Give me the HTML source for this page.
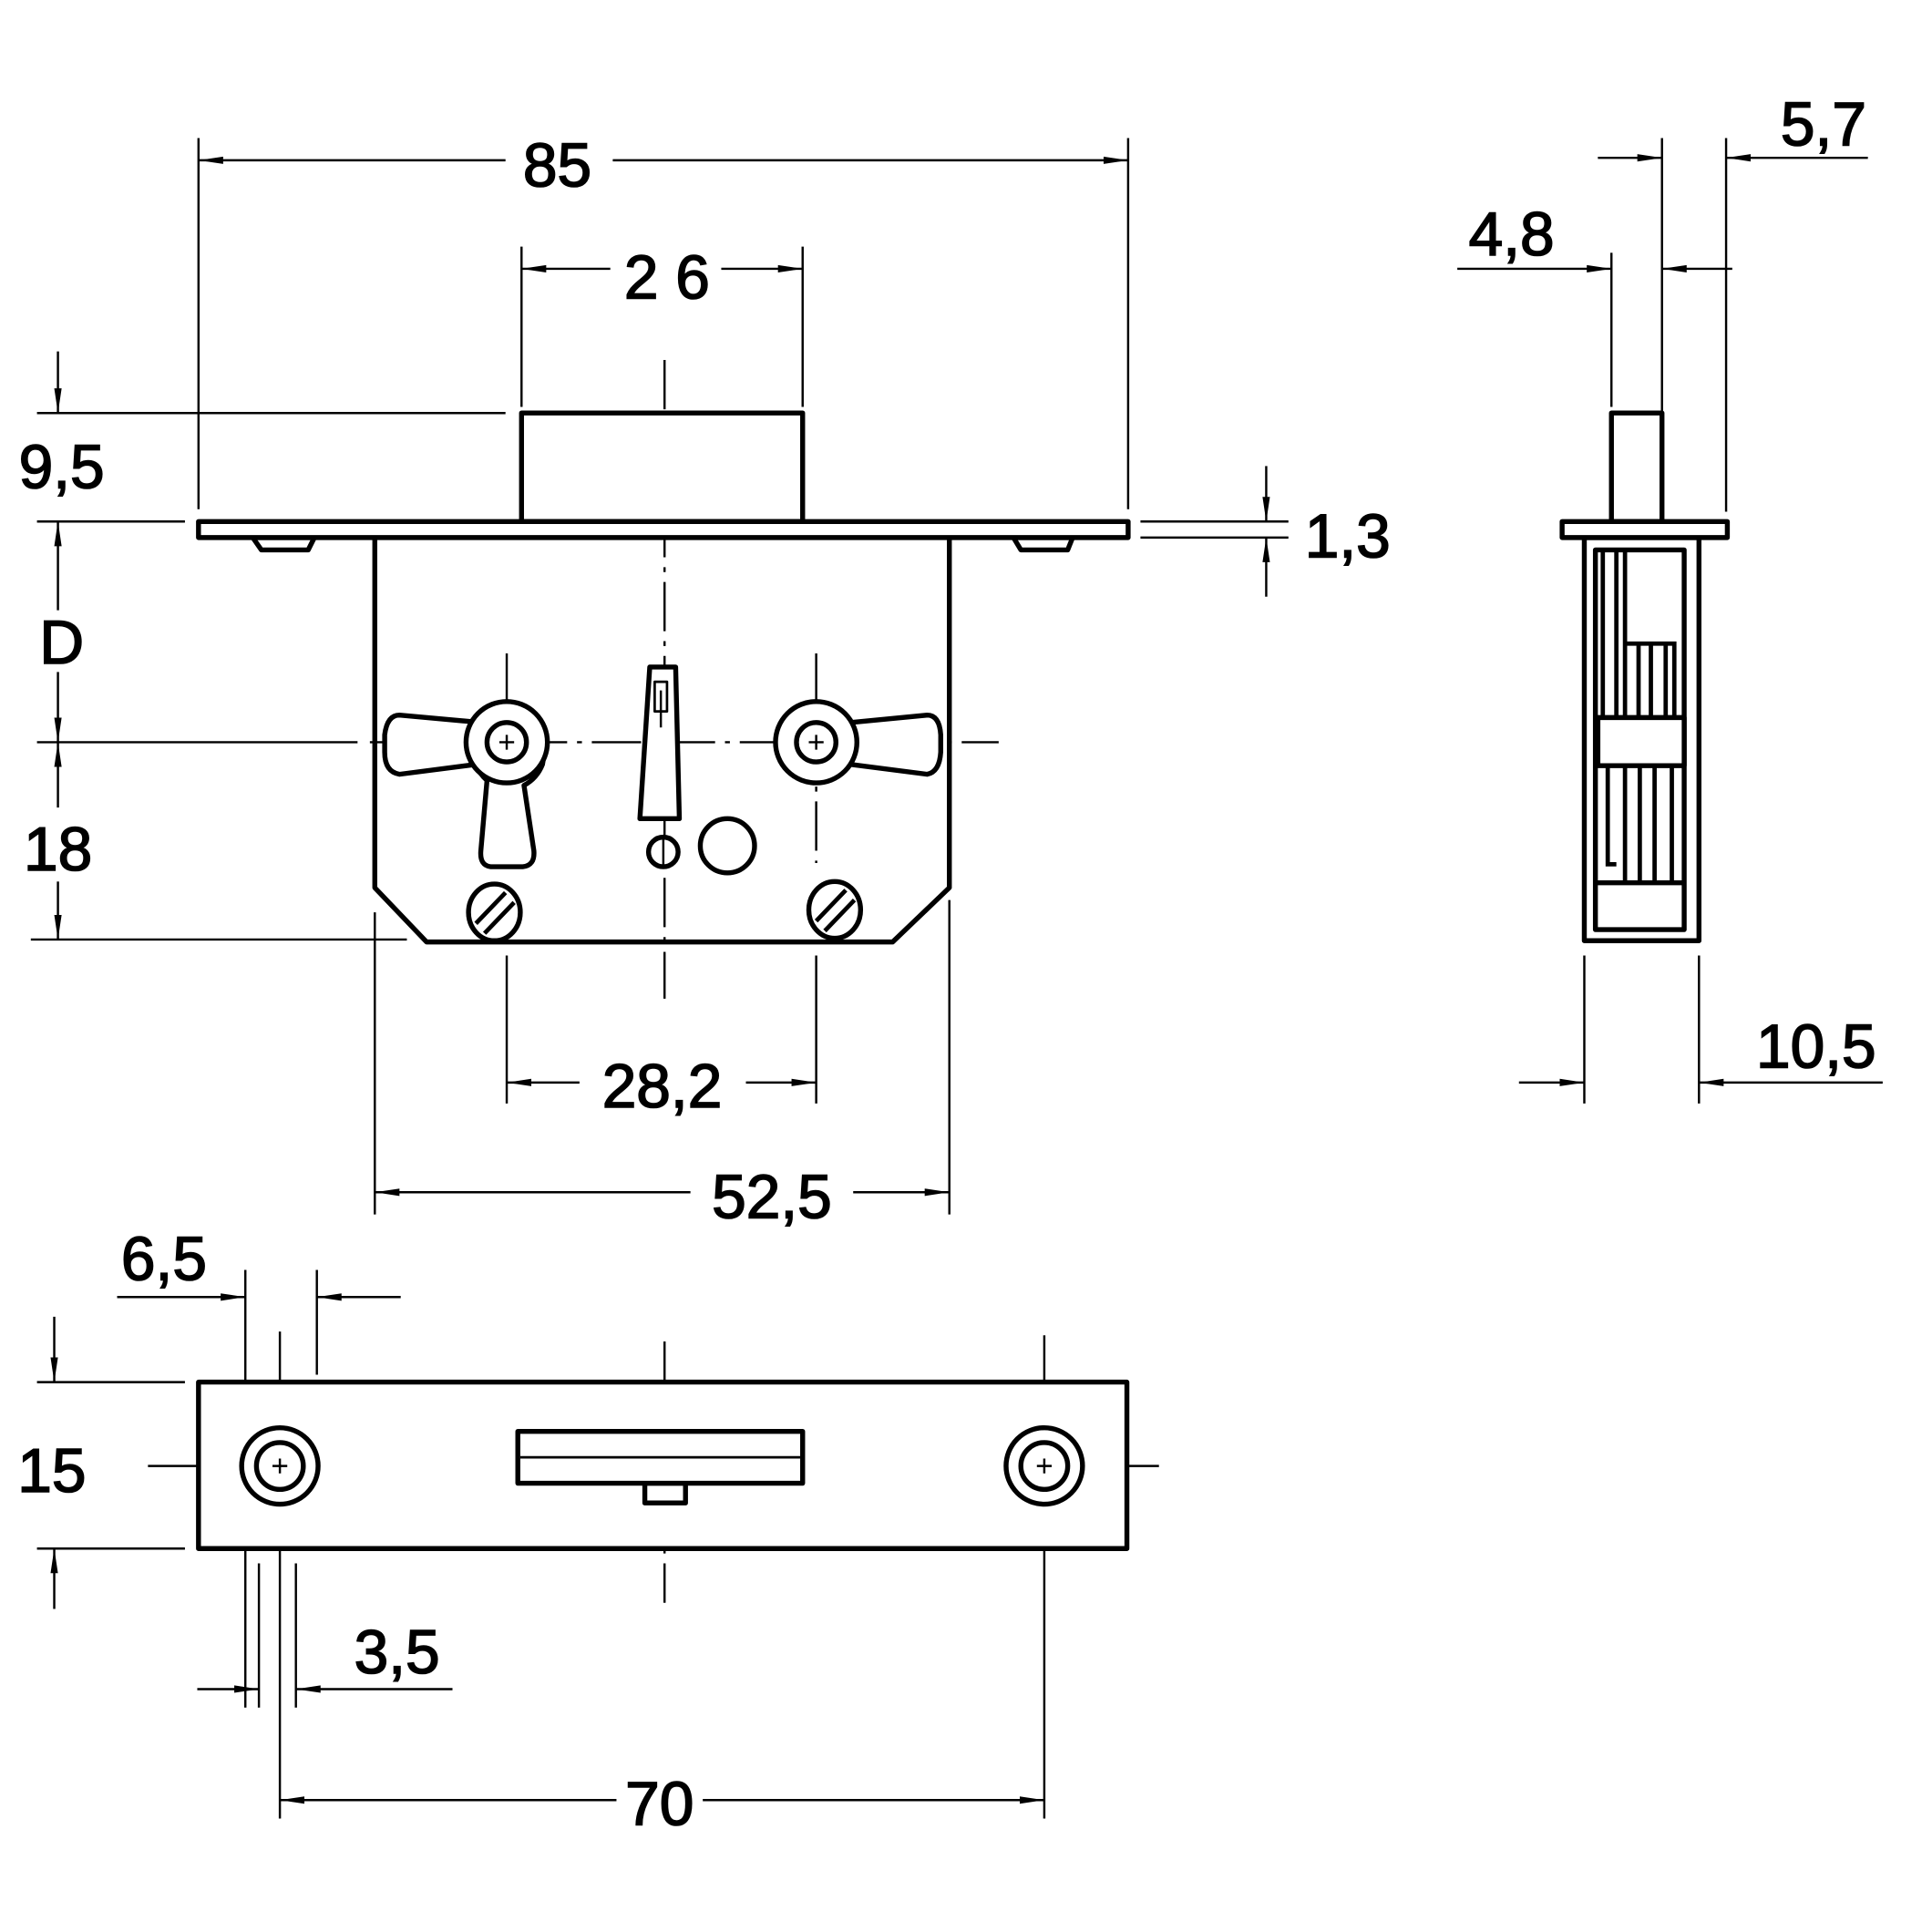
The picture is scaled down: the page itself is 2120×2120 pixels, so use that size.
<!DOCTYPE html>
<html><head><style>html,body{margin:0;padding:0;background:#fff}svg{display:block}</style></head><body>
<svg width="2120" height="2120" viewBox="0 0 1567 1567" xmlns="http://www.w3.org/2000/svg">
<defs>
<marker id="a" viewBox="0 0 20 8" refX="20" refY="4" markerWidth="20" markerHeight="8" markerUnits="userSpaceOnUse" orient="auto-start-reverse"><path d="M0,1 L20,4 L0,7 Z" fill="#000"/></marker>
</defs>
<g fill="none" stroke="#000" stroke-width="1.8">
<g stroke-dasharray="40,8,4,8">
<line x1="539" y1="292" x2="539" y2="810"/>
<line x1="300" y1="602" x2="810" y2="602"/>
<line x1="411" y1="530" x2="411" y2="700"/>
<line x1="662" y1="530" x2="662" y2="700"/>
<line x1="120" y1="1189" x2="948" y2="1189"/>
<line x1="539" y1="1088" x2="539" y2="1300"/>
</g>
<line x1="161" y1="112" x2="161" y2="413"/><line x1="915" y1="112" x2="915" y2="413"/>
<line x1="423" y1="200" x2="423" y2="330"/><line x1="651" y1="200" x2="651" y2="330"/>
<line x1="30" y1="335" x2="410" y2="335"/><line x1="30" y1="423" x2="150" y2="423"/>
<line x1="30" y1="602" x2="290" y2="602"/><line x1="25" y1="762" x2="330" y2="762"/>
<line x1="925" y1="423" x2="1045" y2="423"/><line x1="925" y1="436" x2="1045" y2="436"/>
<line x1="411" y1="775" x2="411" y2="895"/><line x1="662" y1="775" x2="662" y2="895"/>
<line x1="304" y1="740" x2="304" y2="985"/><line x1="770" y1="730" x2="770" y2="985"/>
<line x1="1348" y1="112" x2="1348" y2="335"/><line x1="1400" y1="112" x2="1400" y2="415"/>
<line x1="1307" y1="205" x2="1307" y2="330"/>
<line x1="1285" y1="775" x2="1285" y2="895"/><line x1="1378" y1="775" x2="1378" y2="895"/>
<line x1="199" y1="1030" x2="199" y2="1385"/><line x1="257" y1="1030" x2="257" y2="1115"/>
<line x1="210" y1="1268" x2="210" y2="1385"/><line x1="240" y1="1268" x2="240" y2="1385"/>
<line x1="227" y1="1080" x2="227" y2="1475"/><line x1="847" y1="1083" x2="847" y2="1475"/>
<line x1="30" y1="1121" x2="150" y2="1121"/><line x1="30" y1="1256" x2="150" y2="1256"/>
<line x1="161" y1="130" x2="410" y2="130" marker-start="url(#a)"/><line x1="497" y1="130" x2="915" y2="130" marker-end="url(#a)"/>
<line x1="423" y1="218" x2="495" y2="218" marker-start="url(#a)"/><line x1="585" y1="218" x2="651" y2="218" marker-end="url(#a)"/>
<line x1="47" y1="285" x2="47" y2="335" marker-end="url(#a)"/>
<line x1="47" y1="423" x2="47" y2="495" marker-start="url(#a)"/><line x1="47" y1="545" x2="47" y2="602" marker-end="url(#a)"/>
<line x1="47" y1="602" x2="47" y2="655" marker-start="url(#a)"/><line x1="47" y1="715" x2="47" y2="762" marker-end="url(#a)"/>
<line x1="1027" y1="378" x2="1027" y2="423" marker-end="url(#a)"/><line x1="1027" y1="484" x2="1027" y2="436" marker-end="url(#a)"/>
<line x1="411" y1="878" x2="470" y2="878" marker-start="url(#a)"/><line x1="605" y1="878" x2="662" y2="878" marker-end="url(#a)"/>
<line x1="304" y1="967" x2="560" y2="967" marker-start="url(#a)"/><line x1="692" y1="967" x2="770" y2="967" marker-end="url(#a)"/>
<line x1="1296" y1="128" x2="1348" y2="128" marker-end="url(#a)"/><line x1="1515" y1="128" x2="1400" y2="128" marker-end="url(#a)"/>
<line x1="1182" y1="218" x2="1307" y2="218" marker-end="url(#a)"/><line x1="1405" y1="218" x2="1348" y2="218" marker-end="url(#a)"/>
<line x1="1232" y1="878" x2="1285" y2="878" marker-end="url(#a)"/><line x1="1527" y1="878" x2="1378" y2="878" marker-end="url(#a)"/>
<line x1="95" y1="1052" x2="199" y2="1052" marker-end="url(#a)"/><line x1="325" y1="1052" x2="257" y2="1052" marker-end="url(#a)"/>
<line x1="44" y1="1068" x2="44" y2="1121" marker-end="url(#a)"/><line x1="44" y1="1305" x2="44" y2="1256" marker-end="url(#a)"/>
<line x1="160" y1="1370" x2="210" y2="1370" marker-end="url(#a)"/><line x1="367" y1="1370" x2="240" y2="1370" marker-end="url(#a)"/>
<line x1="227" y1="1460" x2="500" y2="1460" marker-start="url(#a)"/><line x1="570" y1="1460" x2="847" y2="1460" marker-end="url(#a)"/>
</g>
<g fill="#fff" stroke="#000" stroke-width="4" stroke-linejoin="round">
<rect x="423" y="335" width="228" height="88"/>
<path d="M205,436 L212,446 L250,446 L255,436 Z M822,436 L828,446 L866,446 L870,436 Z"/>
<rect x="161" y="423" width="754" height="13"/>
<path d="M304,436 L304,720 L346,764 L724,764 L770,720 L770,436" fill="none"/>
<path d="M324,580 L390,586 A33,33 0 0 1 443,602 L440,620 A33,33 0 0 1 425,637 L433,690 Q434,702 424,703 L398,703 Q389,702 390,690 L395,633 A33,33 0 0 1 386,620 L324,628 Q312,626 312,610 L312,596 Q314,580 324,580 Z"/>
<circle cx="411" cy="602" r="33"/>
<circle cx="411" cy="602" r="16"/>
<path d="M752,580 L690,586 A33,33 0 0 0 638,596 A33,33 0 0 0 690,620 L752,628 Q762,626 763,610 L763,596 Q762,580 752,580 Z"/>
<circle cx="662" cy="602" r="33"/>
<circle cx="662" cy="602" r="16"/>
<path d="M527,541 L548,541 L551,664 L519,664 Z"/>
<rect x="531" y="553" width="10" height="24" stroke-width="2"/>
<circle cx="538" cy="691" r="12"/>
<circle cx="590" cy="686" r="22"/>
<ellipse cx="401" cy="740" rx="21" ry="23"/>
<ellipse cx="677" cy="738" rx="21" ry="23"/>
<rect x="1307" y="335" width="41" height="88"/>
<rect x="1285" y="436" width="93" height="327"/>
<rect x="1267" y="423" width="134" height="13"/>
<rect x="1294" y="446" width="72" height="308"/>
<rect x="1296" y="582" width="70" height="39"/>
<line x1="1294" y1="716" x2="1366" y2="716"/>
<rect x="161" y="1121" width="753" height="135"/>
<circle cx="227" cy="1189" r="31"/><circle cx="227" cy="1189" r="19"/>
<circle cx="847" cy="1189" r="31"/><circle cx="847" cy="1189" r="19"/>
<rect x="523" y="1203" width="33" height="16"/>
<rect x="420" y="1161" width="231" height="42"/>
</g>
<g stroke="#000" stroke-width="3.5" fill="none">
<path d="M1300,446 V582 M1311,446 V582 M1318,446 V582 M1318,522 H1358 V582 M1329,522 V582 M1339,522 V582 M1351,522 V582"/>
<path d="M1304,621 V701 H1311 M1318,621 V716 M1330,621 V716 M1342,621 V716 M1356,621 V716"/>
<path d="M422,1182 H649" stroke-width="2"/>
<path d="M386,749 L410,724 M393,757 L417,732 M662,747 L686,722 M669,755 L693,730"/>
</g>
<g stroke="#000" stroke-width="1.8">
<path d="M405,602 h12 M411,596 v12 M656,602 h12 M662,596 v12 M221,1189 h12 M227,1183 v12 M841,1189 h12 M847,1183 v12"/>
<path d="M538,680 v22 M536,560 v30"/>
</g>
<g font-family="'Liberation Sans', sans-serif" font-size="50" fill="#000" stroke="#000" stroke-width="1.2" text-anchor="middle">
<text x="452" y="151">85</text>
<text x="541" y="242">2 6</text>
<text x="50" y="396">9,5</text>
<text x="50" y="538">D</text>
<text x="47" y="706">18</text>
<text x="1093" y="452">1,3</text>
<text x="537" y="898">28,2</text>
<text x="626" y="988">52,5</text>
<text x="1479" y="118">5,7</text>
<text x="1226" y="207">4,8</text>
<text x="1473" y="866">10,5</text>
<text x="133" y="1038">6,5</text>
<text x="42" y="1210">15</text>
<text x="322" y="1357">3,5</text>
<text x="535" y="1480">70</text>
</g>
</svg>
</body></html>
